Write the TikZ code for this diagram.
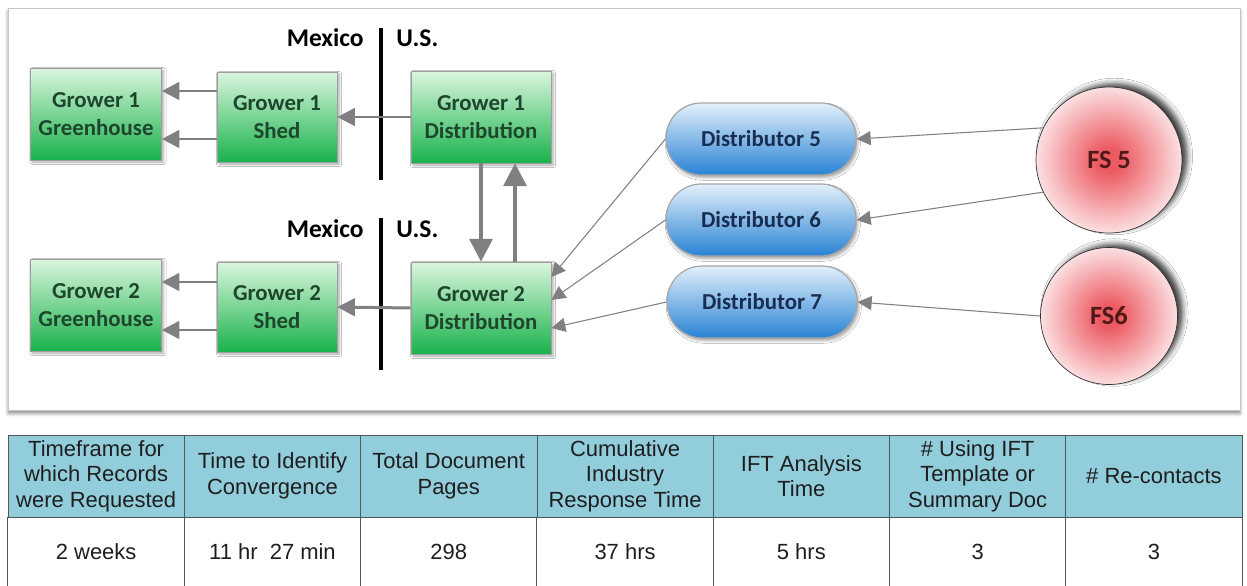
\documentclass[tikz,border=0pt]{standalone}
\usepackage{fontspec}
\setmainfont{Carlito}
\newfontfamily\tablefont{Liberation Sans}
\usepackage{xcolor}
\usetikzlibrary{arrows.meta,positioning,calc,shadows.blur}

\definecolor{greentop}{RGB}{218,246,222}
\definecolor{greenmid}{RGB}{120,220,140}
\definecolor{greenbot}{RGB}{25,178,75}
\definecolor{greentext}{RGB}{30,70,45}
\definecolor{bluetop}{RGB}{226,240,251}
\definecolor{bluemid}{RGB}{140,192,235}
\definecolor{bluebot}{RGB}{40,130,212}
\definecolor{bluetext}{RGB}{25,45,80}
\definecolor{fsred}{RGB}{236,90,98}
\definecolor{fstext}{RGB}{80,25,25}
\definecolor{arrowgray}{RGB}{128,128,128}
\definecolor{headblue}{RGB}{146,205,220}
\definecolor{tableline}{RGB}{85,85,85}
\definecolor{tabletext}{RGB}{30,30,30}

\pgfdeclareradialshading{fsglow}{\pgfpoint{0bp}{0bp}}{color(0bp)=(fsred); color(4bp)=(fsred); color(30bp)=(white); color(50bp)=(white)}

\tikzset{
  growerbox/.style={draw=gray!75, top color=greentop, middle color=greenmid, bottom color=greenbot,
    text=greentext, font=\bfseries\fontsize{13}{15.5}\selectfont, align=center, inner sep=0pt,
    blur shadow={shadow xshift=1.2pt, shadow yshift=-1.2pt, shadow opacity=35, shadow blur radius=1.5pt}},
  distpill/.style={draw=gray!70, line width=0.7pt, rounded corners=20pt, top color=bluetop, middle color=bluemid,
    bottom color=bluebot, text=bluetext, font=\bfseries\fontsize{13}{15.5}\selectfont,
    minimum width=3.8cm, minimum height=1.44cm, inner sep=0pt,
    blur shadow={shadow xshift=1pt, shadow yshift=-1.5pt, shadow opacity=35, shadow blur radius=1.5pt}},
  fscircle/.style={circle, draw=black!80, thin, shading=fsglow, text=fstext,
    font=\bfseries\fontsize{15}{18}\selectfont, inner sep=0pt,
    blur shadow={shadow xshift=3pt, shadow yshift=2pt, shadow opacity=75, shadow blur radius=3pt}},
  country/.style={font=\bfseries\fontsize{14.5}{17}\selectfont, inner sep=0pt},
  border/.style={line width=2.3pt, black},
  thickarrow/.style={draw=arrowgray, line width=1.7pt, -{Triangle[length=10pt,width=10pt]}},
  bigarrow/.style={draw=arrowgray, line width=2.2pt, -{Triangle[length=13pt,width=13pt]}},
  thinarrow/.style={draw=arrowgray, line width=0.6pt, -{Triangle[length=8pt,width=8pt]}},
  headcell/.style={draw=tableline, fill=headblue, text=tabletext, align=center,
    font=\tablefont\fontsize{12.5}{14.5}\selectfont, minimum width=3.526cm, minimum height=1.64cm, inner sep=1pt},
  valcell/.style={anchor=north, text=tabletext, font=\tablefont\fontsize{12.5}{14.5}\selectfont,
    minimum width=3.526cm, minimum height=1.36cm, inner sep=1pt},
}

\begin{document}
\begin{tikzpicture}[x=0.02cm,y=-0.02cm]
  \useasboundingbox (0,0) rectangle (1247,585);
  % frame round the supply chain
  \draw[draw=gray!45, fill=white, blur shadow={shadow xshift=0pt, shadow yshift=-2pt, shadow opacity=45}] (8,8) rectangle (1240,410);

  % growers
  \node[growerbox, minimum width=2.62cm, minimum height=1.84cm] (ghA) at (96,114) {Grower 1\\Greenhouse};
  \node[growerbox, minimum width=2.4cm, minimum height=1.8cm] (shedA) at (277,117) {Grower 1\\Shed};
  \node[growerbox, minimum width=2.8cm, minimum height=1.84cm] (distA) at (481,117) {Grower 1\\Distribution};
  \node[growerbox, minimum width=2.62cm, minimum height=1.84cm] (ghB) at (96,305) {Grower 2\\Greenhouse};
  \node[growerbox, minimum width=2.4cm, minimum height=1.8cm] (shedB) at (277,307) {Grower 2\\Shed};
  \node[growerbox, minimum width=2.8cm, minimum height=1.84cm] (distB) at (481,308) {Grower 2\\Distribution};

  % border
  \draw[border] (381,28) -- (381,180);
  \draw[border] (381,218) -- (381,370);
  \node[country, anchor=east] (mexA) at (364,38) {Mexico};
  \node[country, anchor=west] (usA) at (396,38) {U.S.};
  \node[country, anchor=east] (mexB) at (364,229) {Mexico};
  \node[country, anchor=west] (usB) at (396,229) {U.S.};

  % distributors and food service
  \node[distpill] (dist5) at (761,139) {Distributor 5};
  \node[distpill] (dist6) at (761,220) {Distributor 6};
  \node[distpill] (dist7) at (762,302) {Distributor 7};
  \node[fscircle, minimum size=2.92cm] (fs5) at (1109,160) {FS 5};
  \node[fscircle, minimum size=2.74cm] (fs6) at (1109,316) {FS6};

  % trace back arrows
  \draw[thickarrow] (distA.west) -- (shedA.east);
  \draw[thickarrow] ($(shedA.west)+(0,-26)$) coordinate (sa1) -- (sa1 -| ghA.east);
  \draw[thickarrow] ($(shedA.west)+(0,22)$) coordinate (sa2) -- (sa2 -| ghA.east);
  \draw[thickarrow] (distB.west) -- (shedB.east);
  \draw[thickarrow] ($(shedB.west)+(0,-25)$) coordinate (sb1) -- (sb1 -| ghB.east);
  \draw[thickarrow] ($(shedB.west)+(0,23)$) coordinate (sb2) -- (sb2 -| ghB.east);
  \draw[bigarrow] (distA.south) -- (distA.south |- distB.north);
  \draw[bigarrow] ($(distB.north)+(34,0)$) coordinate (up1) -- (up1 |- distA.south);
  \draw[thinarrow] (dist5.west) -- ($(distB.east)+(0,-31)$);
  \draw[thinarrow] (dist6.west) -- ($(distB.east)+(0,-8)$);
  \draw[thinarrow] (dist7.west) -- ($(distB.east)+(0,20)$);
  \draw[thinarrow] (fs5.154) -- (dist5.east);
  \draw[thinarrow] (fs5.206) -- (dist6.east);
  \draw[thinarrow] (fs6.west) -- (dist7.east);

  % table
  \foreach \i/\head/\val in {1/{Timeframe for\\which Records\\were Requested}/2 weeks,
      2/{Time to Identify\\Convergence}/{11 hr\ \ 27 min},
      3/{Total Document\\Pages}/298,
      4/{Cumulative\\Industry\\Response Time}/37 hrs,
      5/{IFT Analysis\\Time}/5 hrs,
      6/{\# Using IFT\\Template or\\Summary Doc}/3,
      7/{\# Re-contacts}/3} {
    \node[headcell] (h\i) at ({8+176.3*(\i-0.5)},476) {\head};
    \node[valcell] (v\i) at (h\i.south) {\val};
    \draw[tableline] (h\i.south west) -- (v\i.south west);
  }
  \draw[tableline] (h7.south east) -- (v7.south east);
\end{tikzpicture}
\end{document}
